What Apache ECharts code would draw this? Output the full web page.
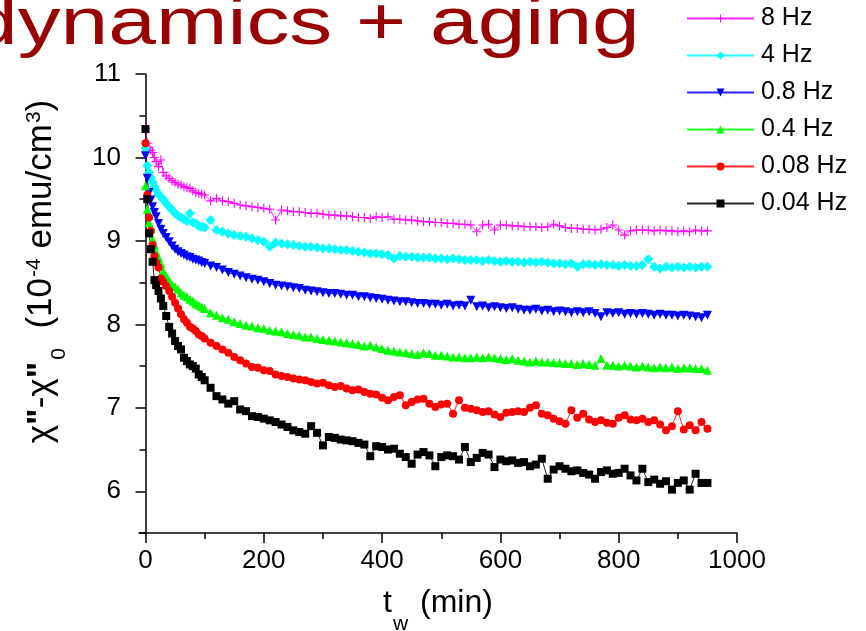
<!DOCTYPE html>
<html>
<head>
<meta charset="utf-8">
<script src="https://cdn.jsdelivr.net/npm/echarts@6/dist/echarts.min.js"></script>
<style>
html,body{margin:0;padding:0;background:#fff;}
#chart{width:866px;height:631px;}
</style>
</head>
<body>
<div id="chart"></div>
<script>
// waiting time t_w (min)
const tw = [0,3,6,9,12,15,18,22,26,30, 35,40,45,50,55,60,65,70,75,80, 85,90,95,100,
  110,120,130,140,150,160,170,180,190,200,
  210,220,230,240,250,260,270,280,290,300,
  310,320,330,340,350,360,370,380,390,400,
  410,420,430,440,450,460,470,480,490,500,
  510,520,530,540,550,560,570,580,590,600,
  610,620,630,640,650,660,670,680,690,700,
  710,720,730,740,750,760,770,780,790,800,
  810,820,830,840,850,860,870,880,890,900,
  910,920,930,940,950];

const hz8 = [10.35,10.17,10.12,10.09,10.06,10.00,9.95,9.89,9.97,9.82, 9.78,9.75,9.72,9.70,9.68,9.67,9.65,9.64,9.63,9.60, 9.58,9.57,9.56,9.55,
  9.48,9.51,9.48,9.47,9.45,9.43,9.42,9.41,9.40,9.39,
  9.38,9.25,9.37,9.36,9.35,9.35,9.34,9.33,9.33,9.32,
  9.31,9.31,9.30,9.30,9.29,9.28,9.28,9.27,9.29,9.28,
  9.29,9.26,9.26,9.25,9.25,9.24,9.23,9.23,9.22,9.22,
  9.21,9.21,9.20,9.20,9.19,9.11,9.19,9.20,9.13,9.19,
  9.19,9.18,9.18,9.17,9.17,9.17,9.16,9.17,9.20,9.18,
  9.16,9.15,9.15,9.14,9.14,9.13,9.14,9.16,9.19,9.13,
  9.07,9.12,9.13,9.13,9.13,9.12,9.13,9.12,9.12,9.11,
  9.12,9.11,9.13,9.12,9.12];

const hz4 = [10.11,9.90,9.82,9.76,9.70,9.65,9.61,9.56,9.53,9.50, 9.45,9.41,9.37,9.33,9.30,9.28,9.26,9.24,9.33,9.22, 9.21,9.18,9.17,9.16,
  9.25,9.13,9.11,9.09,9.07,9.06,9.05,9.03,9.01,8.99,
  8.93,8.98,8.97,8.96,8.95,8.94,8.93,8.93,8.92,8.91,
  8.91,8.90,8.89,8.89,8.88,8.87,8.86,8.85,8.85,8.84,
  8.83,8.79,8.82,8.81,8.81,8.80,8.80,8.80,8.79,8.79,
  8.78,8.79,8.78,8.77,8.77,8.77,8.76,8.77,8.76,8.75,
  8.76,8.75,8.75,8.74,8.75,8.74,8.75,8.74,8.73,8.73,
  8.72,8.73,8.69,8.72,8.72,8.71,8.72,8.71,8.71,8.70,
  8.71,8.70,8.70,8.71,8.78,8.69,8.67,8.69,8.68,8.69,
  8.68,8.69,8.68,8.69,8.69];

const hz08 = [10.02,9.75,9.58,9.49,9.41,9.34,9.29,9.21,9.14,9.09, 9.04,8.99,8.94,8.90,8.87,8.85,8.83,8.81,8.80,8.78, 8.77,8.76,8.74,8.73,
  8.70,8.68,8.65,8.62,8.60,8.58,8.56,8.54,8.53,8.51,
  8.49,8.47,8.46,8.45,8.44,8.43,8.41,8.40,8.39,8.38,
  8.37,8.37,8.36,8.35,8.35,8.33,8.33,8.32,8.31,8.30,
  8.29,8.28,8.27,8.27,8.26,8.25,8.25,8.24,8.24,8.23,
  8.24,8.22,8.23,8.22,8.29,8.21,8.22,8.20,8.21,8.20,
  8.19,8.20,8.18,8.17,8.17,8.18,8.16,8.17,8.15,8.16,
  8.15,8.14,8.15,8.14,8.15,8.13,8.09,8.14,8.13,8.14,
  8.12,8.13,8.12,8.13,8.12,8.11,8.12,8.11,8.11,8.10,
  8.11,8.10,8.09,8.08,8.11];

const hz04 = [9.66,9.38,9.22,9.15,9.02,8.95,8.87,8.80,8.73,8.64, 8.58,8.53,8.47,8.45,8.42,8.38,8.35,8.33,8.30,8.28, 8.25,8.23,8.21,8.19,
  8.14,8.11,8.08,8.06,8.03,8.01,7.99,7.98,7.96,7.95,
  7.93,7.92,7.91,7.89,7.88,7.87,7.85,7.85,7.83,7.82,
  7.81,7.80,7.79,7.78,7.77,7.76,7.74,7.75,7.73,7.71,
  7.69,7.68,7.67,7.66,7.65,7.64,7.66,7.65,7.63,7.63,
  7.62,7.61,7.61,7.60,7.60,7.61,7.60,7.61,7.60,7.59,
  7.58,7.59,7.57,7.56,7.55,7.56,7.55,7.55,7.54,7.54,
  7.53,7.53,7.52,7.53,7.52,7.51,7.59,7.51,7.51,7.50,
  7.51,7.50,7.49,7.50,7.49,7.48,7.49,7.48,7.49,7.47,
  7.48,7.48,7.47,7.47,7.45];

const hz008 = [10.17,9.55,9.28,9.12,8.95,8.82,8.74,8.68,8.55,8.51, 8.46,8.40,8.33,8.26,8.19,8.12,8.06,8.02,7.97,7.95, 7.92,7.88,7.86,7.83,
  7.78,7.74,7.70,7.66,7.61,7.57,7.53,7.49,7.48,7.45,
  7.44,7.40,7.38,7.37,7.35,7.34,7.33,7.31,7.29,7.30,
  7.27,7.25,7.26,7.23,7.21,7.22,7.19,7.17,7.16,7.12,
  7.09,7.13,7.15,7.03,7.07,7.10,7.11,7.05,7.01,7.04,
  7.05,6.93,7.09,7.00,6.99,6.97,6.95,6.96,6.92,6.89,
  6.94,6.95,6.96,6.95,7.00,7.03,6.93,6.91,6.87,6.84,
  6.81,6.97,6.88,6.93,6.86,6.83,6.85,6.82,6.81,6.88,
  6.91,6.86,6.85,6.87,6.83,6.85,6.80,6.73,6.78,6.96,
  6.74,6.79,6.73,6.83,6.75];

const hz004 = [10.34,9.50,9.09,8.90,8.75,8.53,8.47,8.40,8.31,8.22, 8.10,7.97,7.89,7.80,7.74,7.70,7.60,7.56,7.52,7.50, 7.47,7.40,7.37,7.33,
  7.24,7.14,7.10,7.05,7.08,6.98,6.96,6.90,6.89,6.87,
  6.85,6.83,6.80,6.77,6.73,6.71,6.69,6.78,6.70,6.55,
  6.65,6.64,6.62,6.61,6.60,6.58,6.56,6.42,6.54,6.53,
  6.50,6.51,6.45,6.41,6.33,6.44,6.47,6.43,6.30,6.41,
  6.43,6.42,6.38,6.53,6.35,6.40,6.46,6.44,6.29,6.38,
  6.36,6.37,6.34,6.35,6.30,6.32,6.39,6.15,6.26,6.30,
  6.27,6.24,6.25,6.22,6.20,6.15,6.23,6.25,6.21,6.22,
  6.27,6.19,6.13,6.27,6.11,6.14,6.09,6.12,6.02,6.10,
  6.13,6.02,6.21,6.10,6.10];

const seriesNames = ['8 Hz','4 Hz','0.8 Hz','0.4 Hz','0.08 Hz','0.04 Hz'];
const xMajorTicks = [0,200,400,600,800,1000];
const xMinorTicks = [100,300,500,700,900];
const yMajorTicks = [6,7,8,9,10,11];
const yMinorTicks = [5.5,6.5,7.5,8.5,9.5,10.5];

const FONT = 'Arial, "Liberation Sans", sans-serif';
const plus = 'path://M3.5,0h1v3.5h3.5v1h-3.5v3.5h-1v-3.5h-3.5v-1h3.5z';

const styles = [
  {color:'#ff00ff', symbol: plus, size: 9, rot: 0},
  {color:'#00ffff', symbol: 'diamond', size: 10, rot: 0},
  {color:'#0000ff', symbol: 'triangle', size: 9, rot: 180},
  {color:'#00ff00', symbol: 'triangle', size: 9, rot: 0},
  {color:'#ff0000', symbol: 'circle', size: 8, rot: 0},
  {color:'#000000', symbol: 'rect', size: 8, rot: 0}
];
const values = [hz8, hz4, hz08, hz04, hz008, hz004];

const series = values.map((arr, k) => ({
  name: seriesNames[k],
  type: 'line',
  xAxisIndex: 0,
  yAxisIndex: 0,
  data: tw.map((t, i) => [t, arr[i]]),
  symbol: styles[k].symbol,
  symbolSize: styles[k].size,
  symbolRotate: styles[k].rot,
  showSymbol: true,
  showAllSymbol: true,
  itemStyle: {color: styles[k].color, borderWidth: 0},
  lineStyle: {color: styles[k].color, width: 1, opacity: 0.85},
  emphasis: {disabled: true},
  animation: false
}));

const axisBase = {
  axisLine: {show: true, lineStyle: {color: '#000', width: 1.5}},
  splitLine: {show: false}
};

const chart = echarts.init(document.getElementById('chart'), null, {renderer: 'canvas'});
chart.setOption({
  animation: false,
  backgroundColor: '#ffffff',
  grid: {left: 139, right: 129, top: 74, bottom: 98, containLabel: false, outerBoundsMode: 'none'},
  graphic: [{
    type: 'text',
    x: -30, y: 26,
    scaleX: 1.28,
    z: 10,
    style: {
      text: 'dynamics + aging',
      font: '67px Arial, "Liberation Sans", sans-serif',
      fill: '#990000',
      align: 'left',
      verticalAlign: 'middle'
    }
  }],
  legend: {
    orient: 'vertical',
    left: 686,
    top: 6,
    padding: 0,
    itemWidth: 67,
    itemHeight: 10,
    itemGap: 12,
    data: seriesNames,
    textStyle: {fontFamily: FONT, fontSize: 25, lineHeight: 24, color: '#000', padding: [0,0,0,2]}
  },
  xAxis: [
    Object.assign({}, axisBase, {
      type: 'value', min: -11, max: 1000, position: 'bottom',
      name: '{a|t}{sub|w}{a| (min)}',
      nameLocation: 'middle',
      nameGap: 54,
      nameTextStyle: {
        fontFamily: FONT, color: '#000',
        rich: {
          a: {fontFamily: FONT, fontSize: 32, lineHeight: 34, verticalAlign: 'top', color: '#000'},
          sub: {fontFamily: FONT, fontSize: 21, lineHeight: 21, verticalAlign: 'top', padding: [27,3,0,1], color: '#000'}
        }
      },
      axisTick: {show: true, inside: false, length: 10, customValues: xMajorTicks, lineStyle: {color: '#000', width: 1.5}},
      axisLabel: {show: true, customValues: xMajorTicks, margin: 15, fontFamily: FONT, fontSize: 26, color: '#000',
        formatter: (v) => String(v)}
    }),
    {
      type: 'value', min: -11, max: 1000, position: 'bottom',
      axisLine: {show: false}, splitLine: {show: false},
      axisTick: {show: true, inside: false, length: 6, customValues: xMinorTicks, lineStyle: {color: '#000', width: 1.5}},
      axisLabel: {show: false}
    }
  ],
  yAxis: [
    Object.assign({}, axisBase, {
      type: 'value', min: 5.5, max: 11, position: 'left',
      name: '{a|χ}{q|"}{a|-χ}{q|"}{sub|0}{a|  (10}{sup|-4}{a| emu/cm}{sup|3}{a|)}',
      nameLocation: 'middle',
      nameGap: 69,
      nameTextStyle: {
        fontFamily: FONT, color: '#000',
        padding: [0,0,0,64],
        rich: {
          a: {fontFamily: FONT, fontSize: 35, lineHeight: 46, verticalAlign: 'top', color: '#000'},
          q: {fontFamily: FONT, fontSize: 35, fontWeight: 'bold', lineHeight: 46, verticalAlign: 'top', color: '#000'},
          sub: {fontFamily: FONT, fontSize: 21, lineHeight: 21, verticalAlign: 'top', padding: [25,0,0,2], color: '#000'},
          sup: {fontFamily: FONT, fontSize: 21, lineHeight: 21, verticalAlign: 'top', padding: [0,0,0,1], color: '#000'}
        }
      },
      axisTick: {show: true, inside: false, length: 10, customValues: yMajorTicks, lineStyle: {color: '#000', width: 1.5}},
      axisLabel: {show: true, customValues: yMajorTicks, margin: 18, fontFamily: FONT, fontSize: 26, color: '#000'}
    }),
    {
      type: 'value', min: 5.5, max: 11, position: 'left',
      axisLine: {show: false}, splitLine: {show: false},
      axisTick: {show: true, inside: false, length: 6, customValues: yMinorTicks, lineStyle: {color: '#000', width: 1.5}},
      axisLabel: {show: false}
    }
  ],
  series: series
});
</script>
</body>
</html>
